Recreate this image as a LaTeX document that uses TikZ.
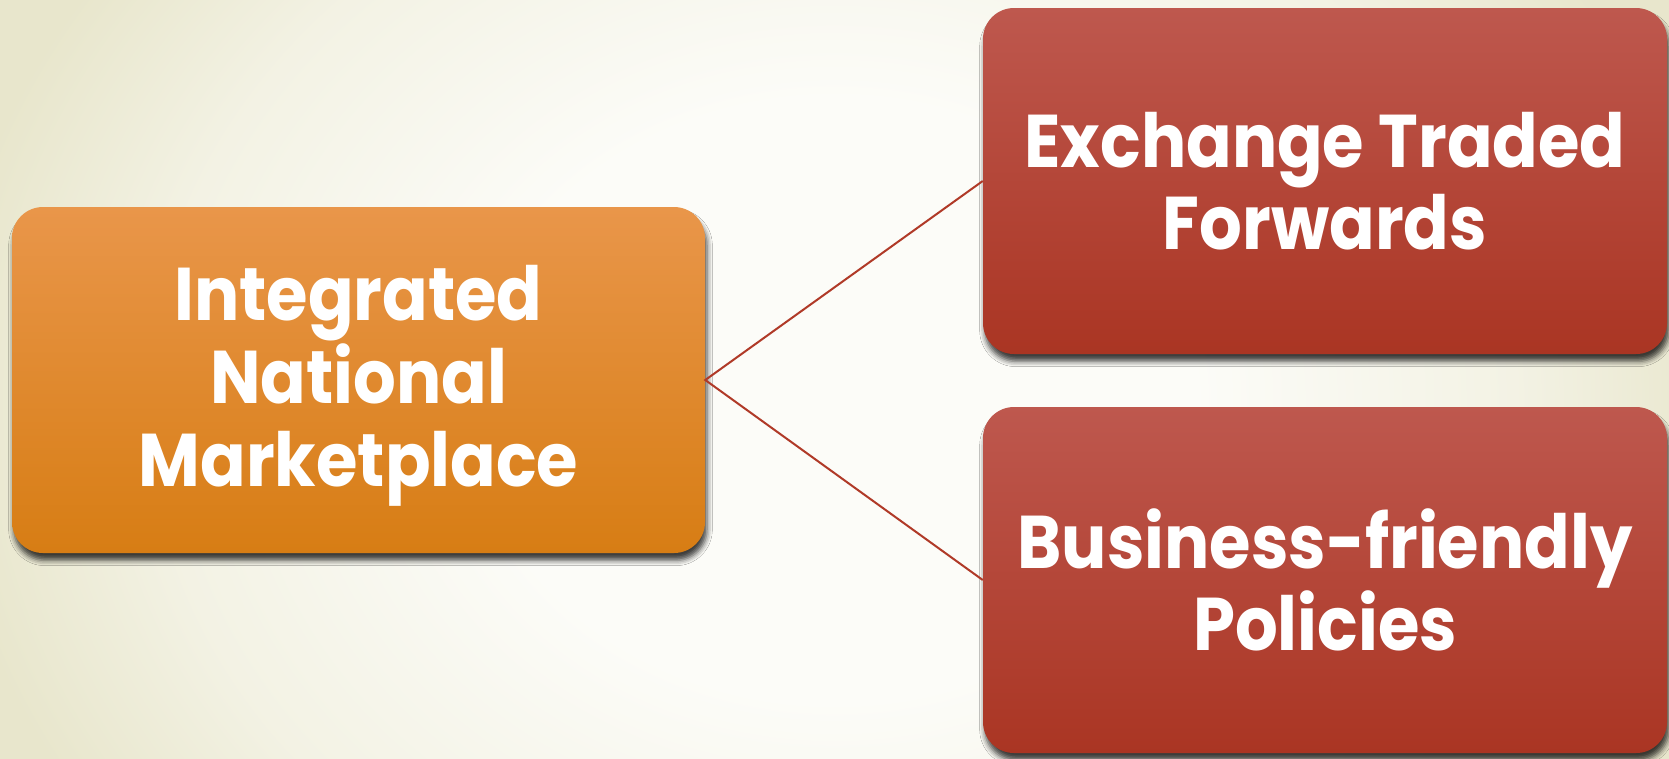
\documentclass[tikz,border=0pt]{standalone}
\usepackage{fontspec}
\setmainfont{Poppins}[FakeStretch=0.9]
\usetikzlibrary{shadows.blur}
\definecolor{bgin}{RGB}{252,252,248}
\definecolor{bgmid}{RGB}{243,242,228}
\definecolor{bgout}{RGB}{232,230,204}
\definecolor{orTop}{RGB}{233,150,74}
\definecolor{orBot}{RGB}{215,125,20}
\definecolor{rdTop}{RGB}{190,88,78}
\definecolor{rdBot}{RGB}{170,53,35}
\definecolor{lnCol}{RGB}{176,58,40}
\pgfdeclareradialshading{bgshade}{\pgfpoint{0bp}{0bp}}{color(0bp)=(bgin); color(10bp)=(bgin); color(19bp)=(bgmid); color(25bp)=(bgout); color(50bp)=(bgout)}
\tikzset{
  boxbase/.style={rounded corners=23.25pt, minimum height=259.5pt, align=center,
    text=white, font=\fontsize{56}{62}\selectfont\bfseries, inner sep=0pt,
    blur shadow={shadow xshift=1.5pt, shadow yshift=-5.5pt, shadow blur radius=4pt, shadow opacity=75}},
  orangebox/.style={boxbase, minimum width=519.75pt, top color=orTop, bottom color=orBot},
  redbox/.style={boxbase, minimum width=513pt, top color=rdTop, bottom color=rdBot},
  link/.style={draw=lnCol, line width=1.5pt}
}
\begin{document}
\begin{tikzpicture}[x=0.75pt,y=-0.75pt]
\useasboundingbox (0,0) rectangle (1669,758);
\begin{scope}
\clip (0,0) rectangle (1669,758);
\shade[shading=bgshade] (-60,-350) rectangle (1729,1150);
\end{scope}
\node[orangebox] (A) at (358.5,380) {\rule{0pt}{50pt}Integrated\\National\\Marketplace};
\node[redbox] (B) at (1325,181) {Exchange Traded\\Forwards};
\node[redbox] (C) at (1325,580) {Business-friendly\\Policies};
\draw[link] (B.west) -- (A.east) -- (C.west);
\end{tikzpicture}
\end{document}
